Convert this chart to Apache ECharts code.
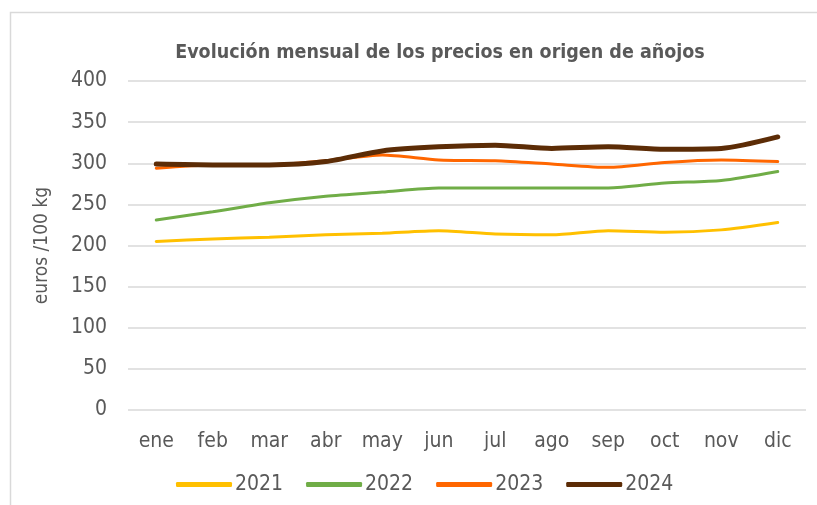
<!DOCTYPE html>
<html>
<head>
<meta charset="utf-8">
<script src="https://cdn.jsdelivr.net/npm/echarts@6/dist/echarts.min.js"></script>
<style>
html,body{margin:0;padding:0;background:#fff;}
#c{width:817px;height:505px;}
</style>
</head>
<body>
<div id="c"></div>
<script>
const months = ['ene','feb','mar','abr','may','jun','jul','ago','sep','oct','nov','dic'];
const yearNames = ['2021','2022','2023','2024'];
const v2021 = [205, 208, 210, 213, 215, 218, 214, 213, 218, 216, 219, 228];
const v2022 = [231, 241, 252, 260, 265, 270, 270, 270, 270, 276, 279, 290];
const v2023 = [294, 298, 298, 303, 310, 304, 303, 299, 295, 301, 304, 302];
const v2024 = [299, 298, 298, 302, 315, 320, 322, 318, 320, 317, 318, 332];
const yTicks = [0, 50, 100, 150, 200, 250, 300, 350, 400];

const colors = ['#FFC000', '#70AD47', '#FF6600', '#5C2C06'];
const widths = [3, 3, 3, 5];
const dataSets = [v2021, v2022, v2023, v2024];
const FONT = '"DejaVu Sans Condensed", sans-serif';

const chart = echarts.init(document.getElementById('c'), null, {renderer: 'canvas'});
chart.setOption({
  animation: false,
  backgroundColor: '#fff',
  title: {
    text: 'Evolución mensual de los precios en origen de añojos',
    left: 435, top: 38, textAlign: 'center',
    textStyle: {fontFamily: FONT, fontSize: 19.5, fontWeight: 'bold', color: '#595959'}
  },
  graphic: [{
    type: 'polyline',
    shape: {points: [[10.5, 505], [10.5, 12.5], [817, 12.5]]},
    style: {stroke: '#D9D9D9', lineWidth: 1.5, fill: null},
    silent: true
  }],
  legend: {
    data: yearNames,
    bottom: 5, left: 171,
    itemWidth: 56, itemHeight: 5, itemGap: 23,
    icon: 'roundRect',
    textStyle: {fontFamily: FONT, fontSize: 21, color: '#595959', padding: [0,0,0,-2]}
  },
  grid: {left: 128, right: 11, top: 81, bottom: 95, containLabel: false},
  xAxis: {
    type: 'category', data: months, boundaryGap: true,
    axisLine: {show: false}, axisTick: {show: false},
    axisLabel: {fontFamily: FONT, fontSize: 21, color: '#595959', margin: 21}
  },
  yAxis: {
    type: 'value', min: yTicks[0], max: yTicks[yTicks.length-1], interval: 50,
    name: 'euros /100 kg', nameLocation: 'middle', nameRotate: 90, nameGap: 76,
    nameTextStyle: {fontFamily: FONT, fontSize: 19, color: '#595959'},
    axisLabel: {fontFamily: FONT, fontSize: 21, color: '#595959', margin: 21},
    splitLine: {lineStyle: {color: '#D9D9D9', width: 1.5}}
  },
  series: yearNames.map((n, i) => ({
    name: n, type: 'line', data: dataSets[i], smooth: 0.25,
    symbol: 'none', z: 2 + i,
    lineStyle: {color: colors[i], width: widths[i], cap: 'round'},
    itemStyle: {color: colors[i]}
  }))
});
</script>
</body>
</html>
